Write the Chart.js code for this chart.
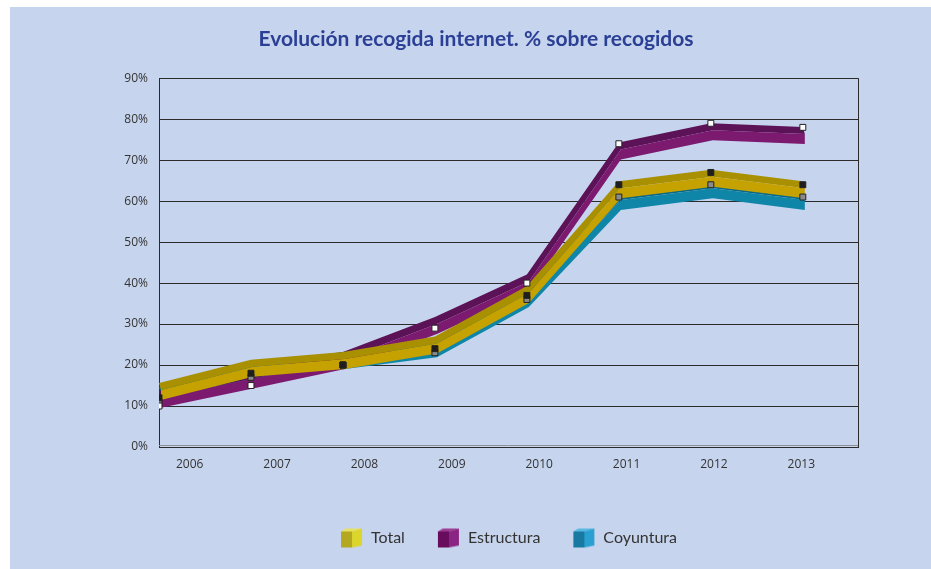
<!DOCTYPE html>
<html>
<head>
<meta charset="utf-8">
<script src="https://cdn.jsdelivr.net/npm/chart.js@4.4.1/dist/chart.umd.min.js"></script>
<style>
  html, body { margin: 0; padding: 0; background: #ffffff; }
  #wrap { position: absolute; left: 10px; top: 7px; width: 921px; height: 562px; background: #c6d4ed; }
</style>
</head>
<body>
<div id="wrap"><canvas id="chart" width="921" height="562"></canvas></div>
<script>
// datos
const years = [2006, 2007, 2008, 2009, 2010, 2011, 2012, 2013];
const total = [12, 18, 20, 24, 37, 64, 67, 64];
const estructura = [10, 15, 20, 29, 40, 74, 79, 78];
const coyuntura = [11, 17, 20, 23, 36, 61, 64, 61];
const yTicks = [0, 10, 20, 30, 40, 50, 60, 70, 80, 90];

// colores: cara frontal, cara superior, marcador
const series = [
    { name: 'Total', values: total, front: '#c5a200', top: '#a99000', mark: '#1e1e1e', cube: ['#b3a820', '#dcd52c', '#e8e260'] },
    { name: 'Estructura', values: estructura, front: '#7c1a70', top: '#5c1256', mark: '#ffffff', cube: ['#680c5e', '#8a2482', '#9c3a94'] },
    { name: 'Coyuntura', values: coyuntura, front: '#0f86a8', top: '#0b6884', mark: '#8a8a8a', cube: ['#187aa0', '#2a9fd2', '#56b8e0'] }
];

function cube(c) {
    const cv = document.createElement('canvas');
    cv.width = 23; cv.height = 21;
    const g = cv.getContext('2d');
    g.fillStyle = c[2];
    g.beginPath(); g.moveTo(1, 4); g.lineTo(6, 1); g.lineTo(22, 1); g.lineTo(12, 4); g.closePath(); g.fill();
    g.fillStyle = c[0];
    g.fillRect(1, 4, 11, 16);
    g.fillStyle = c[1];
    g.beginPath(); g.moveTo(12, 4); g.lineTo(22, 1); g.lineTo(22, 18); g.lineTo(12, 20); g.closePath(); g.fill();
    return cv;
}

// cintas 3D: el plano 3D tiene su propia escala (eje y3 oculto)
const ribbons = {
    id: 'ribbons',
    beforeDatasetsDraw(chart) {
        const ctx = chart.ctx;
        const a = chart.chartArea;
        const xs = chart.scales.x, ys = chart.scales.y3;
        ctx.save();
        ctx.beginPath();
        ctx.rect(a.left - 4, a.top, a.right - a.left + 8, a.bottom - a.top);
        ctx.clip();
        [2, 1, 0].forEach(i => {
            const s = series[i];
            const pts = s.values.map((v, k) => ({ x: xs.getPixelForValue(years[k]), y: ys.getPixelForValue(v) }));
            const dx = 2, dy = 7, h = 10;
            ctx.fillStyle = s.top;
            ctx.beginPath();
            pts.forEach((p, k) => k ? ctx.lineTo(p.x, p.y) : ctx.moveTo(p.x, p.y));
            for (let k = pts.length - 1; k >= 0; k--) ctx.lineTo(pts[k].x + dx, pts[k].y + dy);
            ctx.closePath();
            ctx.fill();
            ctx.fillStyle = s.front;
            ctx.beginPath();
            pts.forEach((p, k) => k ? ctx.lineTo(p.x + dx, p.y + dy) : ctx.moveTo(p.x + dx, p.y + dy));
            for (let k = pts.length - 1; k >= 0; k--) ctx.lineTo(pts[k].x + dx, pts[k].y + dy + h);
            ctx.closePath();
            ctx.fill();
        });
        ctx.restore();
    },
    afterDraw(chart) {
        const a = chart.chartArea;
        const ctx = chart.ctx;
        ctx.save();
        ctx.strokeStyle = '#2b2b2b';
        ctx.lineWidth = 1;
        ctx.beginPath();
        ctx.moveTo(Math.round(a.right) + 0.5, a.top);
        ctx.lineTo(Math.round(a.right) + 0.5, a.bottom);
        ctx.stroke();
        ctx.strokeStyle = '#8a8f9a';
        ctx.beginPath();
        ctx.moveTo(a.left, Math.round(a.bottom) - 1.5);
        ctx.lineTo(a.right, Math.round(a.bottom) - 1.5);
        ctx.stroke();
        ctx.restore();
    }
};

new Chart(
    document.getElementById('chart'),
    {
        type: 'line',
        data: {
            datasets: series.map(s => ({
                label: s.name,
                data: s.values.map((v, k) => ({ x: years[k], y: v })),
                xAxisID: 'x',
                yAxisID: 'y',
                showLine: false,
                pointStyle: 'rect',
                pointRadius: 4.2,
                pointBackgroundColor: s.mark,
                pointBorderColor: '#222222',
                pointBorderWidth: 1,
                legendIcon: cube(s.cube)
            }))
        },
        options: {
            responsive: false,
            animation: false,
            layout: { padding: { left: 84, right: 73, top: 0, bottom: 13 } },
            plugins: {
                title: {
                    display: true,
                    text: 'Evolución recogida internet. % sobre recogidos',
                    color: '#2b3f95',
                    font: { family: 'Lato', size: 21, weight: 'bold' },
                    padding: { top: 20, bottom: 26 }
                },
                legend: {
                    position: 'bottom',
                    fullSize: false,
                    labels: {
                        usePointStyle: true,
                        pointStyleWidth: 23,
                        boxHeight: 21,
                        padding: 32,
                        color: '#333333',
                        font: { family: 'Lato', size: 16 },
                        generateLabels(chart) {
                            return chart.data.datasets.map((d, i) => ({
                                text: d.label,
                                pointStyle: d.legendIcon,
                                fillStyle: 'transparent',
                                strokeStyle: 'transparent',
                                lineWidth: 0,
                                fontColor: '#333333',
                                datasetIndex: i,
                                hidden: false
                            }));
                        }
                    }
                },
                tooltip: { enabled: false }
            },
            scales: {
                x: {
                    type: 'linear',
                    min: 2006,
                    max: 2013.6,
                    display: false
                },
                xl: {
                    type: 'category',
                    position: 'bottom',
                    labels: years.map(String),
                    offset: true,
                    grid: { display: false, drawTicks: false },
                    border: { display: true, color: '#2b2b2b', width: 1 },
                    ticks: { color: '#333333', font: { family: 'Open Sans', size: 12 }, labelOffset: -13, padding: 10 },
                    afterFit(scale) { scale.height = 51; }
                },
                y: {
                    min: 0,
                    max: 90,
                    afterBuildTicks(scale) { scale.ticks = yTicks.map(v => ({ value: v })); },
                    grid: { color: '#2b2b2b', lineWidth: 1, drawTicks: false },
                    border: { display: true, color: '#2b2b2b', width: 1 },
                    ticks: {
                        color: '#333333',
                        font: { family: 'Open Sans', size: 12 },
                        padding: 11,
                        callback: v => v + '%'
                    },
                    afterFit(scale) { scale.width = 65; }
                },
                y3: {
                    type: 'linear',
                    min: -4.5,
                    max: 90.6,
                    display: false
                }
            }
        },
        plugins: [ribbons]
    }
);
</script>
</body>
</html>
